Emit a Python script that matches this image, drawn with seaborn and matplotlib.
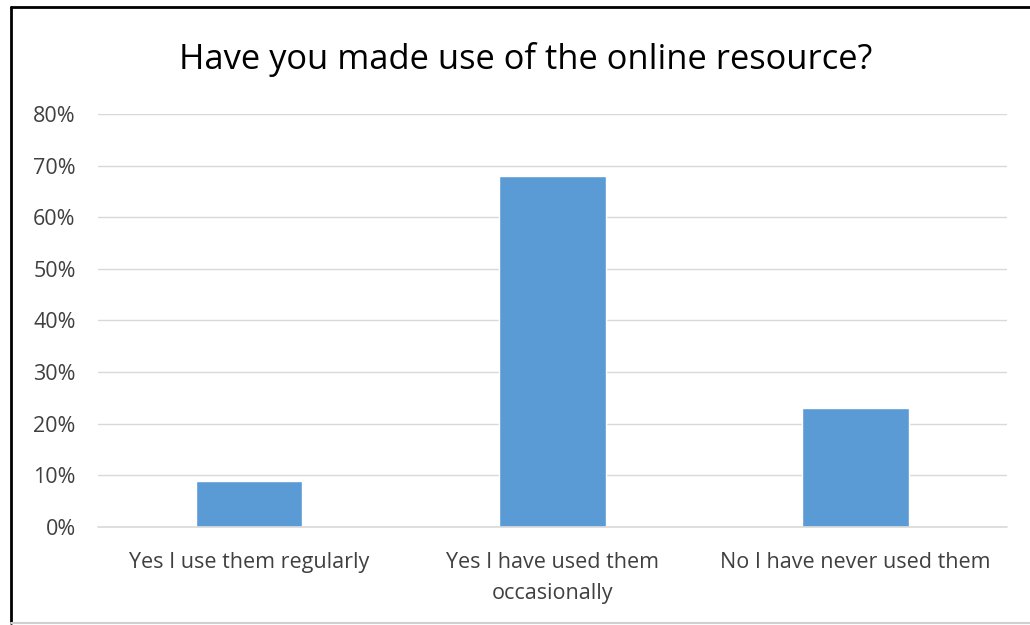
import matplotlib
matplotlib.use("Agg")
import matplotlib.pyplot as plt
import seaborn as sns
import pandas as pd
from matplotlib.lines import Line2D
from matplotlib.ticker import PercentFormatter

categories = ["Yes I use them regularly",
              "Yes I have used them\noccasionally",
              "No I have never used them"]
shares = [9, 68, 23]
yticks = [0, 10, 20, 30, 40, 50, 60, 70, 80]

df = pd.DataFrame({"answer": categories, "share": shares})

sns.set_style("white")
plt.rcParams["font.family"] = ["Open Sans", "DejaVu Sans"]

fig = plt.figure(figsize=(10.3, 6.25), dpi=100)
ax = fig.add_axes([0.0951, 0.1568, 0.8826, 0.6608])

sns.barplot(data=df, x="answer", y="share", color="#5b9bd5", saturation=1,
            width=0.35, ax=ax)

ax.set_ylim(0, 80)
ax.set_xlim(-0.5, 2.5)
ax.set_yticks(yticks)
ax.yaxis.set_major_formatter(PercentFormatter(decimals=0))
ax.yaxis.grid(True, color="#d9d9d9", linewidth=1)
ax.set_axisbelow(True)
ax.axhline(0, color="#d9d9d9", linewidth=1.2, clip_on=False, zorder=3)
for s in ax.spines.values():
    s.set_visible(False)
ax.tick_params(axis="both", length=0, labelsize=15.5, colors="#404040")
ax.tick_params(axis="y", pad=16)
ax.tick_params(axis="x", pad=18)
for lbl in ax.get_xticklabels():
    lbl.set_linespacing(1.6)
ax.set_xlabel("")
ax.set_ylabel("")

fig.text(0.51, 0.905, "Have you made use of the online resource?",
         ha="center", va="center", fontsize=24.8, color="#000000")

# chart frame
fig.add_artist(Line2D([0.0107, 0.0107], [0.003, 0.989], color="black", linewidth=2))
fig.add_artist(Line2D([0.0107, 1.0], [0.989, 0.989], color="black", linewidth=2))
fig.add_artist(Line2D([0.0107, 1.0], [0.004, 0.004], color="#d0d0d0", linewidth=1.5))

fig.savefig("out.png", dpi=100, facecolor="white")
